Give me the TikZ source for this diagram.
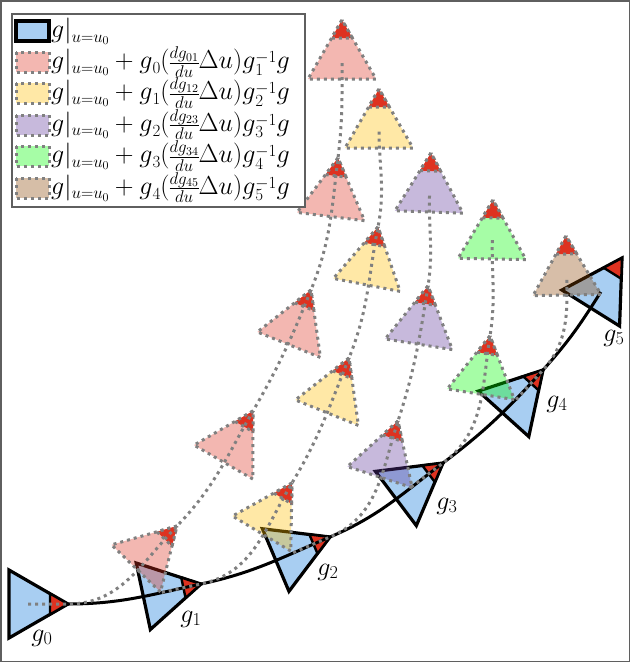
\RequirePackage{fix-cm}
\documentclass[tikz,border=0pt]{standalone}
\usetikzlibrary{calc}
\definecolor{gblue}{RGB}{168,206,242}
\definecolor{tipred}{RGB}{222,50,32}
\definecolor{cyel}{RGB}{255,190,0}
\definecolor{cpur}{RGB}{95,55,155}
\definecolor{cgrn}{RGB}{0,250,0}
\definecolor{ctan}{RGB}{140,70,5}
\definecolor{dgray}{RGB}{128,128,128}
\definecolor{bordgray}{RGB}{95,95,95}
\tikzset{
  gframe/.style={fill=gblue, draw=black, line width=3.2pt, line join=miter},
  gtip/.style={fill=tipred, draw=black, line width=2.4pt},
  dotln/.style={draw=dgray, line width=3pt, dash pattern=on 3pt off 4pt},
  dframe/.style={dotln, fill opacity=0.35},
  dtip/.style={dotln, fill=tipred},
  mainln/.style={draw=black, line width=3pt},
  lbl/.style={font=\fontsize{26}{30}\selectfont, inner sep=0pt},
  legtxt/.style={font=\fontsize{26}{30}\selectfont, inner sep=0pt, anchor=base west},
}
\newcommand{\gfr}[2]{%
  \begin{scope}[shift={(#1)}, rotate=#2]
    \filldraw[gframe] (0,0) -- (-59,34) -- (-59,-34) -- cycle;
    \filldraw[gtip] (0,0) -- (-18,10.4) -- (-18,-10.4) -- cycle;
  \end{scope}}
\newcommand{\dfr}[3]{%
  \begin{scope}[shift={(#1)}, rotate=#2]
    \filldraw[dframe, fill=#3] (0,0) -- (-59,34) -- (-59,-34) -- cycle;
    \filldraw[dtip] (0,0) -- (-18,10.4) -- (-18,-10.4) -- cycle;
  \end{scope}}
% legend math pieces, set compactly (small scripts as in the reference)
\newcommand{\scr}[1]{\hbox{\fontsize{17}{19}\selectfont$#1$}}
\newcommand{\gev}{g|\raisebox{-0.18em}{\scr{u{=}u_0}}}
\newcommand{\gsub}[1]{g\raisebox{-0.2em}{\scr{#1}}}
\newcommand{\ginv}[1]{g\rlap{\raisebox{-0.25em}{\scr{#1}}}\raisebox{0.22em}{\scr{-1}}}
\newcommand{\tfr}[2]{\vcenter{\fontsize{17}{19}\selectfont\offinterlineskip
  \halign{\hfil##\hfil\cr$#1$\cr\noalign{\kern1pt\hrule height 0.9pt\kern1.5pt}$#2$\cr}}}
\newcommand{\legrow}[3]{$\gev+\gsub{#1}(\tfr{dg_{#2}}{du}\Delta u)\ginv{#3}g$}
\begin{document}
\begin{tikzpicture}[x=1pt,y=1pt]
\useasboundingbox (0,0) rectangle (630,-662);
\draw[bordgray, line width=1.5pt] (0.75,-0.75) rectangle (629.25,-661.25);
% frame positions (apexes)
\coordinate (g0) at (68,-604);
\coordinate (g1) at (201,-584);
\coordinate (g2) at (330,-537);
\coordinate (g3) at (443,-463);
\coordinate (g4) at (543,-370);
\coordinate (g5) at (622,-258);
\coordinate (P1) at (177,-526);
\coordinate (P2) at (253,-411);
\coordinate (P3) at (311,-290);
\coordinate (P4) at (338,-158);
\coordinate (P5) at (342,-20);
\coordinate (Y1) at (292,-483);
\coordinate (Y2) at (349,-358);
\coordinate (Y3) at (378,-227);
\coordinate (Y4) at (379,-89);
\coordinate (U1) at (398,-421);
\coordinate (U2) at (428,-286);
\coordinate (U3) at (431,-153);
\coordinate (G1) at (490,-336);
\coordinate (G2) at (493,-200);
\coordinate (T1) at (566,-236);
% curve ends
\coordinate (eB) at ($(g5)+(238:40)$);
\coordinate (sP) at ($(g0)+(180:40)$);
\coordinate (eP) at ($(P5)+(270:40)$);
\coordinate (sY) at ($(g1)+(192:40)$);
\coordinate (eY) at ($(Y4)+(270:40)$);
\coordinate (sU) at ($(g2)+(203:40)$);
\coordinate (eU) at ($(U3)+(268:40)$);
\coordinate (sG) at ($(g3)+(217:40)$);
\coordinate (eG) at ($(G2)+(269:40)$);
\coordinate (sT) at ($(g4)+(228:40)$);
\coordinate (eT) at ($(T1)+(271:40)$);
% solid frames
\gfr{g0}{0}\gfr{g1}{12}\gfr{g2}{23}\gfr{g3}{37}\gfr{g4}{48}\gfr{g5}{58}
% main curve
\draw[mainln] (g0) to[out=0,in=192] (g1) to[out=12,in=203] (g2)
  to[out=23,in=217] (g3) to[out=37,in=228] (g4) to[out=48,in=238] (eB);
% labels
\node[lbl] (l0) at (42,-638) {$g_0$};
\node[lbl] (l1) at (191,-619) {$g_1$};
\node[lbl] (l2) at (328,-572) {$g_2$};
\node[lbl] (l3) at (447,-506) {$g_3$};
\node[lbl] (l4) at (557,-404) {$g_4$};
\node[lbl] (l5) at (614,-338) {$g_5$};
% transported frames
\dfr{P1}{46}{tipred}\dfr{P2}{60}{tipred}\dfr{P3}{68}{tipred}\dfr{P4}{83}{tipred}\dfr{P5}{90}{tipred}
\dfr{Y1}{59}{cyel}\dfr{Y2}{68}{cyel}\dfr{Y3}{79}{cyel}\dfr{Y4}{90}{cyel}
\dfr{U1}{72}{cpur}\dfr{U2}{81}{cpur}\dfr{U3}{88}{cpur}
\dfr{G1}{81}{cgrn}\dfr{G2}{89}{cgrn}
\dfr{T1}{91}{ctan}
% dotted curves
\draw[dotln] (sP) -- (g0) to[out=0,in=226] (P1) to[out=46,in=240] (P2)
  to[out=60,in=248] (P3) to[out=68,in=263] (P4) to[out=83,in=270] (eP);
\draw[dotln] (sY) -- (g1) to[out=12,in=239] (Y1) to[out=59,in=248] (Y2)
  to[out=68,in=259] (Y3) to[out=79,in=270] (eY);
\draw[dotln] (sU) -- (g2) to[out=23,in=252] (U1) to[out=72,in=261] (U2)
  to[out=81,in=268] (eU);
\draw[dotln] (sG) -- (g3) to[out=37,in=261] (G1) to[out=81,in=269] (eG);
\draw[dotln] (sT) -- (g4) to[out=48,in=271] (eT);
% legend
\filldraw[draw=bordgray, fill=white, line width=1.2pt] (12,-14) rectangle (305,-207);
\filldraw[gframe] (16,-21) rectangle (49,-41);
\filldraw[dframe, fill=tipred] (16,-52) rectangle (49,-72);
\filldraw[dframe, fill=cyel] (16,-83) rectangle (49,-103);
\filldraw[dframe, fill=cpur] (16,-115) rectangle (49,-135);
\filldraw[dframe, fill=cgrn] (16,-146) rectangle (49,-166);
\filldraw[dframe, fill=ctan] (16,-178) rectangle (49,-198);
\node[legtxt] (t0) at (51,-37.5) {$\gev$};
\node[legtxt] (t1) at (51,-68.5) {\legrow{0}{01}{1}};
\node[legtxt] (t2) at (51,-99.5) {\legrow{1}{12}{2}};
\node[legtxt] (t3) at (51,-131) {\legrow{2}{23}{3}};
\node[legtxt] (t4) at (51,-162.5) {\legrow{3}{34}{4}};
\node[legtxt] (t5) at (51,-194) {\legrow{4}{45}{5}};
\end{tikzpicture}
\end{document}
